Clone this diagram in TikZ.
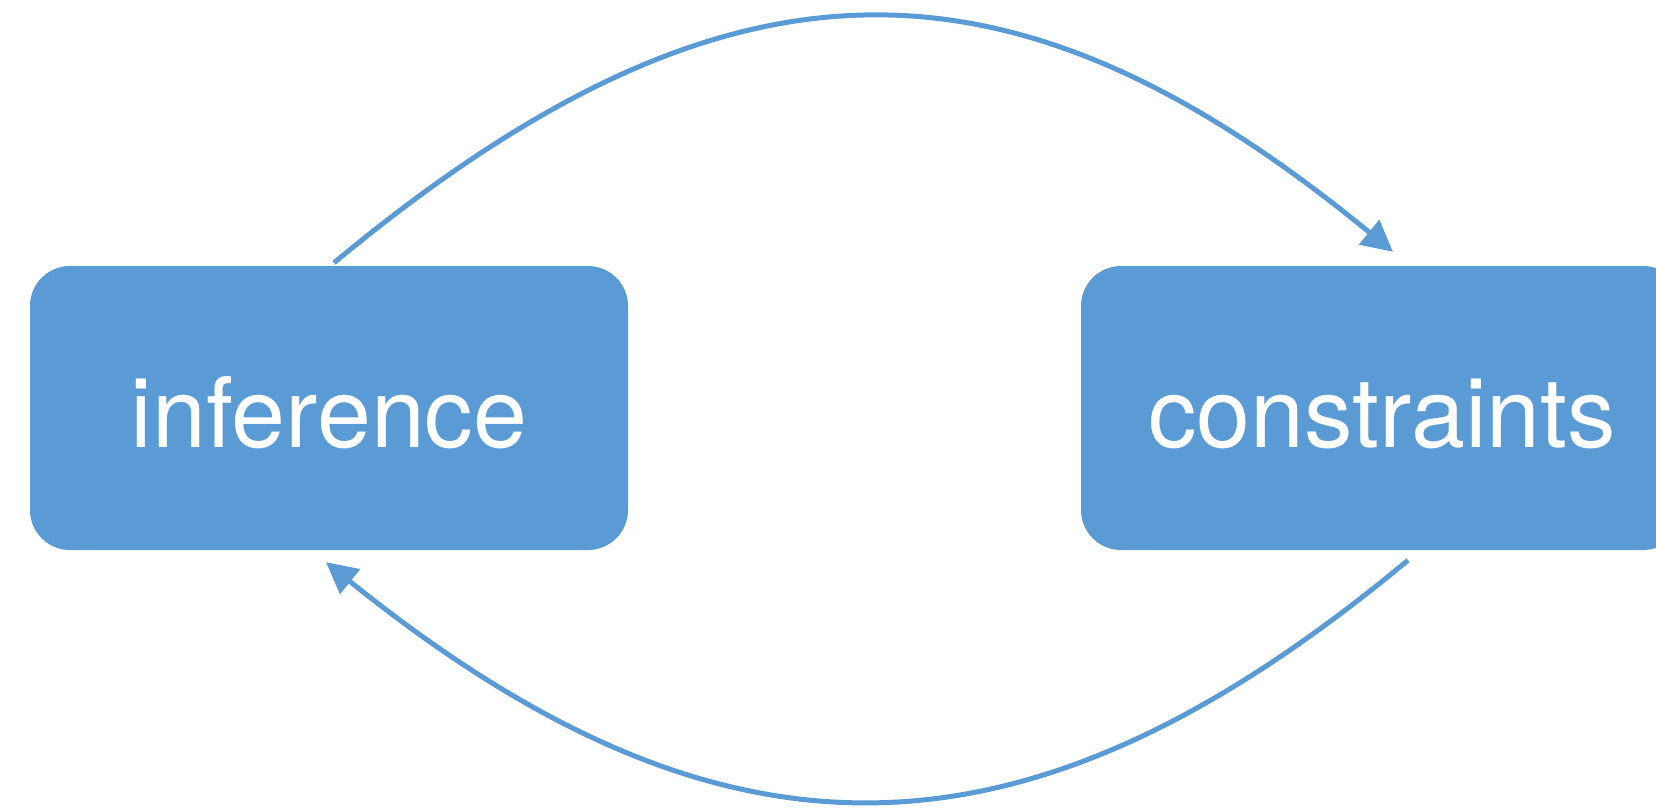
\documentclass[tikz,border=0pt]{standalone}
\usepackage{fontspec}
\setmainfont{TeX Gyre Heros}
\usetikzlibrary{arrows.meta,calc}
\definecolor{boxblue}{HTML}{5B9BD5}
\begin{document}
\begin{tikzpicture}[x=1pt,y=-1pt,
  box/.style={draw=none, fill=boxblue, rounded corners=40pt, minimum height=284pt,
    inner sep=0pt, text=white, font=\fontsize{97}{110}\selectfont,
    text height=78pt, text depth=0pt},
  link/.style={draw=boxblue, line width=5pt, -{Triangle[length=31pt,width=31pt]}}]
\useasboundingbox (0,0) rectangle (1656,807);
\clip (0,0) rectangle (1656,807);
\fill[white] (0,0) rectangle (1656,807);
\node[box, minimum width=598pt] (inf) at (329,408) {inference};
\node[box, minimum width=602pt] (con) at (1382,408) {constraints};
\coordinate (a1) at ($(inf.north)+(5,-3)$);
\coordinate (a2) at ($(con.north)+(11,-14)$);
\coordinate (b1) at ($(con.south)+(26,10)$);
\coordinate (b2) at ($(inf.south)+(-3,12)$);
\draw[link] (a1) .. controls +(395,-328) and +(-380,-312) .. (a2);
\draw[link] (b1) .. controls +(-380,316) and +(400,322) .. (b2);
\end{tikzpicture}
\end{document}
